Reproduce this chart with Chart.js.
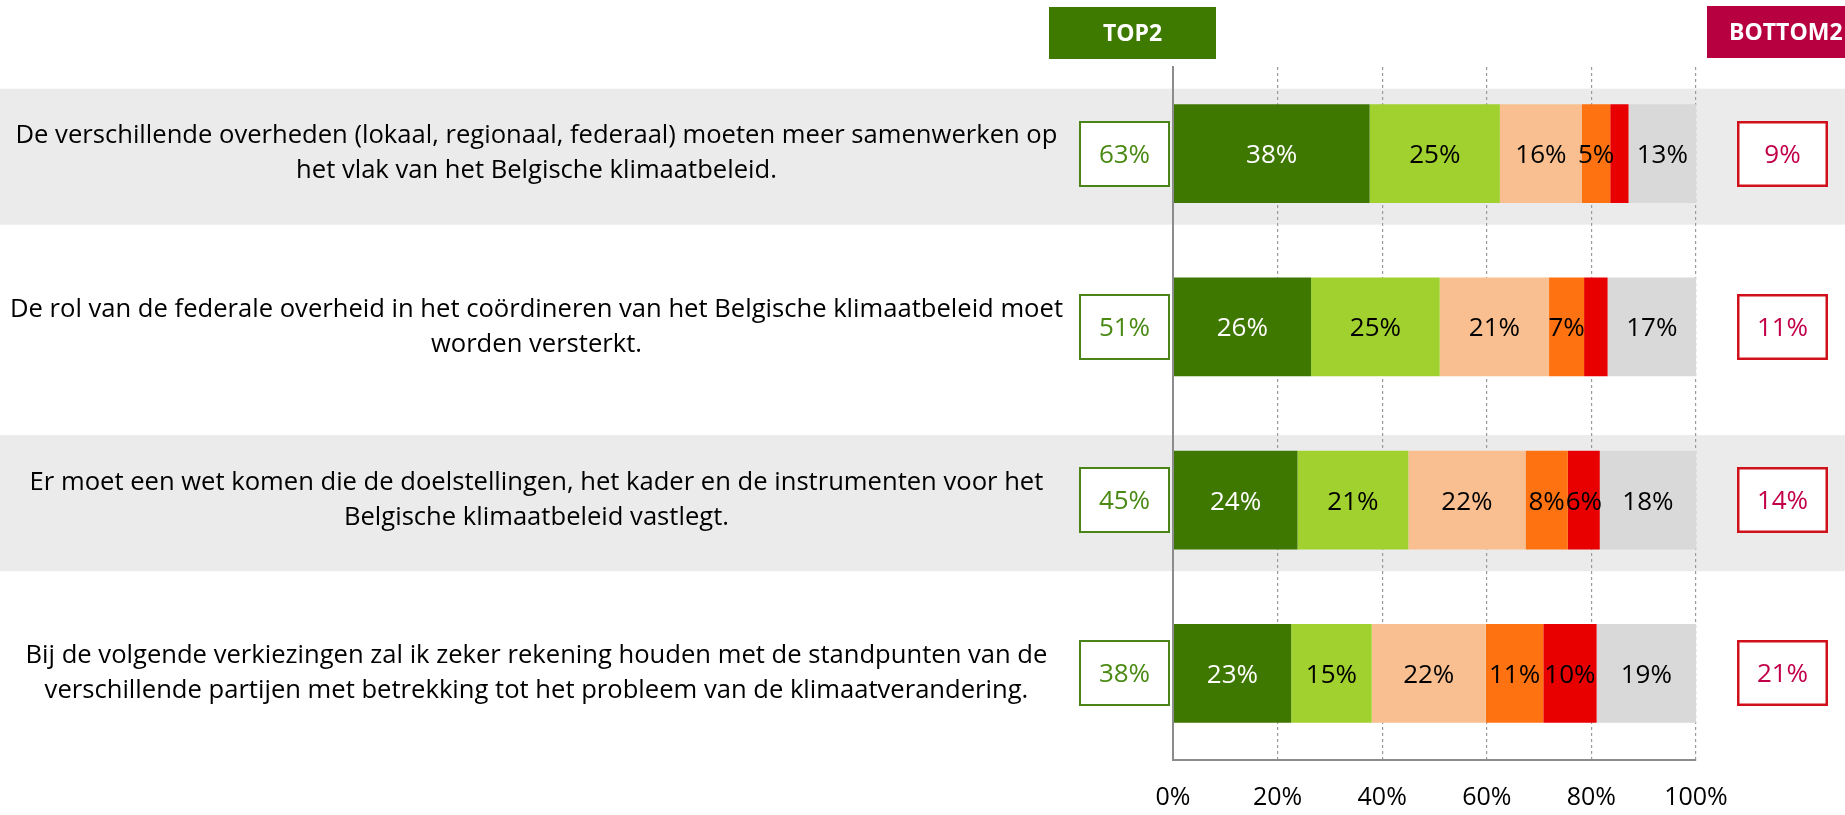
<!DOCTYPE html>
<html>
<head>
<meta charset="utf-8">
<script src="https://cdn.jsdelivr.net/npm/chart.js@4.4.1/dist/chart.umd.min.js"></script>
<style>
html,body{margin:0;padding:0;background:#fff;overflow:hidden}
#wrap{width:1845px;height:815px;position:relative}
</style>
</head>
<body>
<div id="wrap"><canvas id="c" width="1845" height="815"></canvas></div>
<script>
// ---------- DATA ----------
const categories = [
  ["De verschillende overheden (lokaal, regionaal, federaal) moeten meer samenwerken op", "het vlak van het Belgische klimaatbeleid."],
  ["De rol van de federale overheid in het coördineren van het Belgische klimaatbeleid moet", "worden versterkt."],
  ["Er moet een wet komen die de doelstellingen, het kader en de instrumenten voor het", "Belgische klimaatbeleid vastlegt."],
  ["Bij de volgende verkiezingen zal ik zeker rekening houden met de standpunten van de", "verschillende partijen met betrekking tot het probleem van de klimaatverandering."]
];
const seriesNames = ["Helemaal akkoord", "Eerder akkoord", "Noch akkoord, noch niet akkoord", "Eerder niet akkoord", "Helemaal niet akkoord", "Weet niet"];
const helemaalAkkoord     = [37.6, 26.4, 23.8, 22.6];
const eerderAkkoord       = [24.9, 24.6, 21.2, 15.4];
const neutraal            = [15.7, 20.9, 22.4, 21.8];
const eerderNietAkkoord   = [5.4, 6.7, 8.1, 11.0];
const helemaalNietAkkoord = [3.5, 4.5, 6.1, 10.2];
const weetNiet            = [12.9, 16.9, 18.4, 19.0];
const top2    = [63, 51, 45, 38];
const bottom2 = [9, 11, 14, 21];
const headerLabels = ["TOP2", "BOTTOM2"];
const xTicks = [0, 20, 40, 60, 80, 100];

// ---------- STYLE ----------
const FONT = "'Open Sans', 'DejaVu Sans', sans-serif";
Chart.defaults.font.family = FONT;
const colors = ["#3f7800", "#a0d12e", "#f9bf90", "#ff7212", "#e80000", "#d9d9d9"];
const labelColors = ["#ffffff", "#000000", "#000000", "#000000", "#000000", "#000000"];

const bandsPlugin = {
  id: 'bands',
  beforeDraw(chart) {
    const {ctx, scales: {y}, width} = chart;
    const step = y.getPixelForValue(1) - y.getPixelForValue(0);
    ctx.save();
    ctx.fillStyle = '#ebebeb';
    categories.forEach((c, i) => {
      if (i % 2 === 0) {
        const cy = y.getPixelForValue(i);
        ctx.fillRect(0, cy - 0.375 * step, width, 0.785 * step);
      }
    });
    ctx.restore();
  }
};

const valueLabels = {
  id: 'valueLabels',
  afterDatasetsDraw(chart) {
    const ctx = chart.ctx;
    ctx.save();
    ctx.font = "26px " + FONT;
    ctx.textAlign = 'center';
    ctx.textBaseline = 'middle';
    chart.data.datasets.forEach((ds, di) => {
      const meta = chart.getDatasetMeta(di);
      meta.data.forEach((el, i) => {
        const v = ds.data[i];
        if (v < 5) return;
        ctx.fillStyle = labelColors[di];
        ctx.fillText(Math.round(v) + '%', (el.x + el.base) / 2, el.y + 2);
      });
    });
    ctx.restore();
  }
};

const summaryPlugin = {
  id: 'summary',
  afterDraw(chart) {
    const {ctx, chartArea: ca, scales: {y}} = chart;
    ctx.save();
    // headers
    ctx.fillStyle = '#3f7a00';
    ctx.fillRect(ca.left - 124, 7, 167, 52);
    ctx.fillStyle = '#b6003f';
    ctx.fillRect(ca.right + 11, 6, 200, 52);
    ctx.fillStyle = '#ffffff';
    ctx.font = "bold 23px " + FONT;
    ctx.textBaseline = 'middle';
    ctx.textAlign = 'center';
    ctx.fillText(headerLabels[0], ca.left - 124 + 83.5, 34);
    ctx.textAlign = 'left';
    ctx.fillText(headerLabels[1], ca.right + 33, 33);
    // value boxes
    ctx.font = "26px " + FONT;
    ctx.textAlign = 'center';
    top2.forEach((v, i) => {
      const cy = Math.round(y.getPixelForValue(i));
      const bx = ca.left - 94;
      ctx.fillStyle = '#ffffff';
      ctx.fillRect(bx, cy - 33, 91, 66);
      ctx.strokeStyle = '#4a8418';
      ctx.lineWidth = 2;
      ctx.strokeRect(bx + 1, cy - 32, 89, 64);
      ctx.fillStyle = '#4a8a14';
      ctx.fillText(v + '%', bx + 45.5, cy + 2);
    });
    bottom2.forEach((v, i) => {
      const cy = Math.round(y.getPixelForValue(i));
      const bx = ca.right + 41;
      ctx.fillStyle = '#ffffff';
      ctx.fillRect(bx, cy - 33, 91, 66);
      ctx.strokeStyle = '#d0101a';
      ctx.lineWidth = 2.5;
      ctx.strokeRect(bx + 1.25, cy - 31.75, 88.5, 63.5);
      ctx.fillStyle = '#c2004a';
      ctx.fillText(v + '%', bx + 45.5, cy + 2);
    });
    ctx.restore();
  }
};

const seriesData = [helemaalAkkoord, eerderAkkoord, neutraal, eerderNietAkkoord, helemaalNietAkkoord, weetNiet];

new Chart(document.getElementById('c'), {
  type: 'bar',
  data: {
    labels: categories,
    datasets: seriesData.map((d, i) => ({
      label: seriesNames[i],
      data: d,
      backgroundColor: colors[i],
      borderWidth: 0,
      barPercentage: 0.571,
      categoryPercentage: 1.0
    }))
  },
  options: {
    indexAxis: 'y',
    responsive: false,
    animation: false,
    devicePixelRatio: 1,
    layout: { padding: { top: 67, right: 149, bottom: 0, left: 0 } },
    plugins: { legend: { display: false }, tooltip: { enabled: false } },
    scales: {
      x: {
        stacked: true,
        min: 0, max: 100,
        afterBuildTicks(scale) { scale.ticks = xTicks.map(v => ({ value: v })); },
        ticks: { callback: v => v + '%', color: '#000', font: { size: 25 }, padding: 23 },
        grid: { color: '#9a9a9a', lineWidth: 1.2, drawTicks: false },
        border: { display: true, color: '#8c8c8c', width: 2, dash: [3, 3] },
        afterFit(s) { s.height = 55; s.paddingLeft = 0; s.paddingRight = 0; }
      },
      y: {
        stacked: true,
        ticks: { crossAlign: 'center', padding: 110, color: '#000', font: { size: 25.6, lineHeight: 1.37 } },
        grid: { display: false, drawTicks: false },
        border: { display: true, color: '#8c8c8c', width: 2, z: 1 },
        afterFit(s) { s.width = 1173; s.paddingTop = 0; s.paddingBottom = 0; }
      }
    }
  },
  plugins: [bandsPlugin, valueLabels, summaryPlugin]
});
</script>
</body>
</html>
